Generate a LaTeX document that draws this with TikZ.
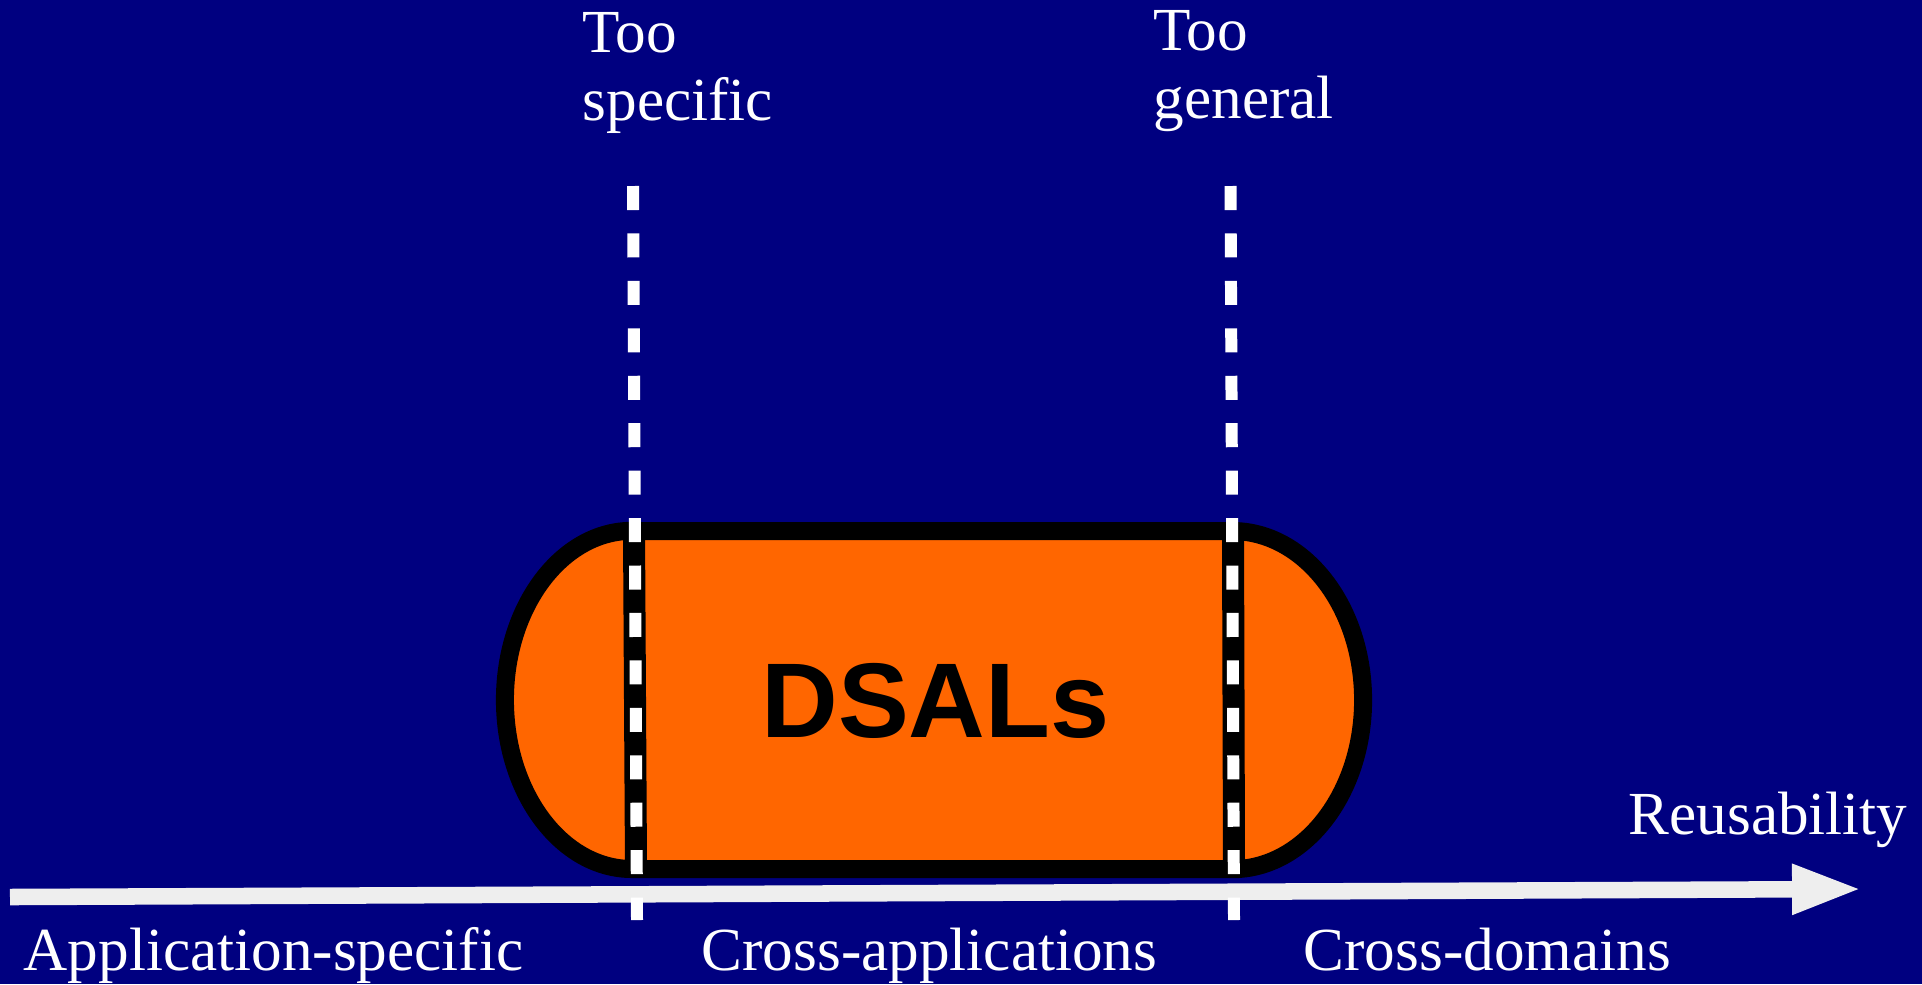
\documentclass[tikz,border=0pt]{standalone}
\usepackage{fontspec}
\setmainfont{Liberation Serif}
\setsansfont{Liberation Sans}
\usetikzlibrary{arrows.meta}
\definecolor{navy}{RGB}{0,0,128}
\definecolor{dsalorange}{RGB}{255,102,0}
\definecolor{axisgray}{RGB}{238,238,238}

\begin{document}
\begin{tikzpicture}[
x=0.01cm,
y=-0.01cm,
caption/.style={
text=white,
inner sep=0pt,
anchor=base west,
font=\fontsize{17.4}{19.35}\selectfont},
limit/.style={
white,
line width=3.41pt,
dash pattern=on 6.83pt off 6.66pt},
divider/.style={
black,
line width=6.26pt},
reuseaxis/.style={
axisgray,
line width=4.7pt,
-{Triangle[length=19.9pt,width=13.1pt]}}
]

\useasboundingbox (0,0) rectangle (1922,984);
\fill[navy] (0,0) rectangle (1922,984);

\draw[fill=dsalorange, line width=5.12pt] (632,531) -- (1232,531)
  arc[start angle=90, end angle=-90, x radius=1.31cm, y radius=1.69cm]
  -- (632,869)
  arc[start angle=270, end angle=90, x radius=1.27cm, y radius=1.69cm]
  -- cycle;
\draw[divider] (634,531) -- (636,869);
\draw[divider] (1233,531) -- (1234,869);
\draw (935.5,737)node[anchor=base, inner sep=0pt, font=\fontsize{30.2}{36}\selectfont\sffamily\bfseries] (dsals) {DSALs};

\coordinate (axisstart) at (10,897);
\coordinate (axisend) at (1862,889);
\draw[reuseaxis] (axisstart) -- (axisend);

\coordinate (spectop) at (633,186);
\coordinate (specbot) at (637,920);
\coordinate (gentop) at (1230.5,186);
\coordinate (genbot) at (1234,920);
\draw[limit] (spectop) -- (specbot);
\draw[limit] (gentop) -- (genbot);

\draw (582,12)node[caption, anchor=north west, align=left] (toospecific) {Too\\specific};
\draw (1153,10)node[caption, anchor=north west, align=left] (toogeneral) {Too\\general};
\draw (1628,834)node[caption] (reusability) {Reusability};
\draw (23,970)node[caption] (appspecific) {Application-specific};
\draw (701,970)node[caption] (crossapps) {Cross-applications};
\draw (1303,970)node[caption] (crossdomains) {Cross-domains};

\end{tikzpicture}
\end{document}
